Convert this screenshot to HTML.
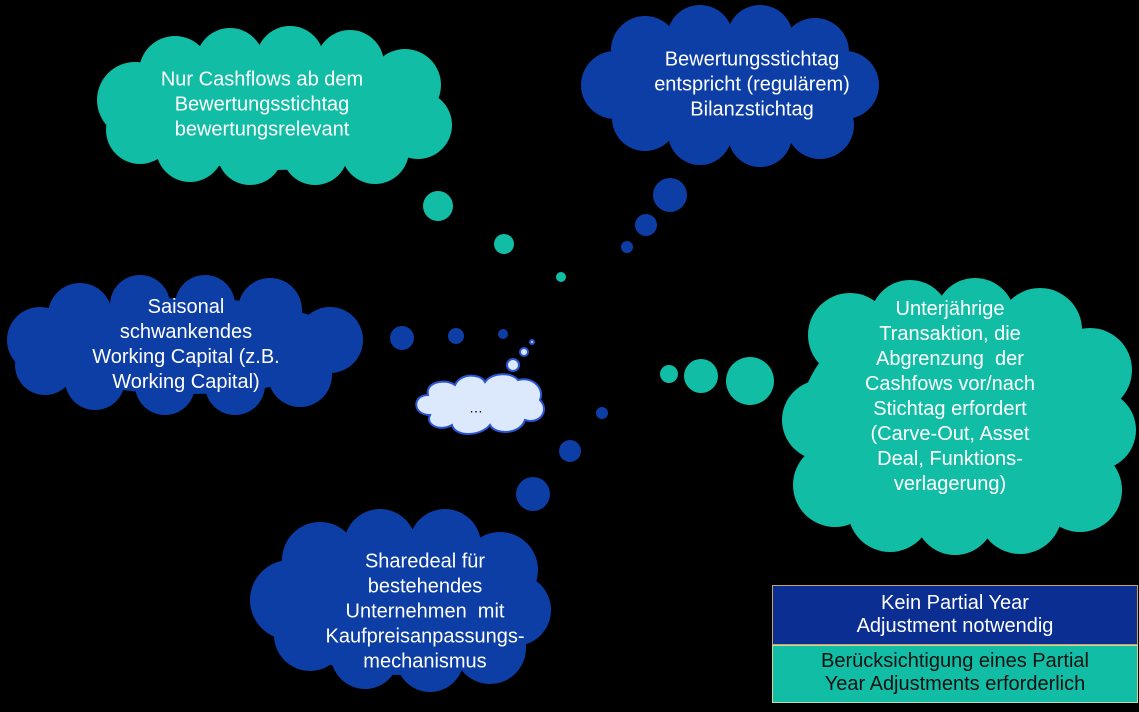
<!DOCTYPE html>
<html><head><meta charset="utf-8"><style>
body{margin:0;background:#000;}
#w{position:relative;width:1139px;height:712px;overflow:hidden;background:#000;font-family:"Liberation Sans",sans-serif;}
svg{position:absolute;left:0;top:0}
.t{position:absolute;color:#fff;font-size:20px;line-height:25px;text-align:center;transform:translate(-50%,-50%);white-space:nowrap}
.b{position:absolute;left:772px;width:366px;text-align:center;font-size:20px;line-height:23px}
</style></head><body><div id="w">
<svg width="1139" height="712">
<g fill="#12bda5">
<ellipse cx="276" cy="108" rx="160" ry="62"/>
<circle cx="135" cy="100" r="38"/><circle cx="175" cy="72" r="36"/><circle cx="230" cy="62" r="34"/><circle cx="290" cy="60" r="34"/><circle cx="350" cy="64" r="34"/><circle cx="405" cy="85" r="36"/><circle cx="418" cy="125" r="34"/><circle cx="375" cy="150" r="34"/><circle cx="315" cy="152" r="33"/><circle cx="250" cy="152" r="33"/><circle cx="190" cy="148" r="34"/><circle cx="140" cy="130" r="34"/>
<ellipse cx="960" cy="420" rx="160" ry="120"/>
<circle cx="850" cy="335" r="42"/><circle cx="910" cy="320" r="40"/><circle cx="975" cy="318" r="40"/><circle cx="1040" cy="330" r="42"/><circle cx="1090" cy="370" r="42"/><circle cx="1096" cy="430" r="40"/><circle cx="1080" cy="490" r="42"/><circle cx="1020" cy="512" r="42"/><circle cx="955" cy="515" r="40"/><circle cx="890" cy="510" r="42"/><circle cx="835" cy="485" r="42"/><circle cx="822" cy="420" r="40"/>
<circle cx="438" cy="206" r="15"/><circle cx="504" cy="244" r="10"/><circle cx="561" cy="277" r="5"/>
<circle cx="669" cy="374" r="9"/><circle cx="701" cy="376" r="17"/><circle cx="750" cy="381" r="24"/>
</g>
<g fill="#0c3ea6">
<ellipse cx="730" cy="88" rx="135" ry="55"/>
<circle cx="615" cy="85" r="34"/><circle cx="645" cy="50" r="34"/><circle cx="700" cy="38" r="33"/><circle cx="760" cy="38" r="33"/><circle cx="815" cy="52" r="34"/><circle cx="845" cy="85" r="34"/><circle cx="820" cy="125" r="34"/><circle cx="760" cy="135" r="32"/><circle cx="700" cy="133" r="32"/><circle cx="645" cy="118" r="33"/>
<ellipse cx="187" cy="346" rx="160" ry="48"/>
<circle cx="40" cy="340" r="33"/><circle cx="80" cy="315" r="32"/><circle cx="140" cy="305" r="30"/><circle cx="205" cy="305" r="30"/><circle cx="270" cy="310" r="32"/><circle cx="330" cy="340" r="33"/><circle cx="300" cy="375" r="32"/><circle cx="235" cy="385" r="30"/><circle cx="165" cy="385" r="30"/><circle cx="95" cy="380" r="30"/><circle cx="45" cy="365" r="30"/>
<ellipse cx="403" cy="605" rx="140" ry="70"/>
<circle cx="290" cy="600" r="40"/><circle cx="320" cy="560" r="38"/><circle cx="380" cy="545" r="36"/><circle cx="445" cy="545" r="36"/><circle cx="500" cy="570" r="38"/><circle cx="515" cy="610" r="36"/><circle cx="490" cy="648" r="36"/><circle cx="430" cy="658" r="34"/><circle cx="365" cy="655" r="34"/><circle cx="310" cy="635" r="36"/>
<circle cx="670" cy="195" r="17"/><circle cx="646" cy="225" r="11"/><circle cx="627" cy="247" r="6"/>
<circle cx="402" cy="338" r="12"/><circle cx="456" cy="336" r="8"/><circle cx="503" cy="334" r="5"/>
<circle cx="602" cy="413" r="6"/><circle cx="570" cy="451" r="11"/><circle cx="533" cy="494" r="17"/>
</g>
<g fill="#dce8fb" stroke="#2a56d6" stroke-width="2">
<path d="M430 415 C412 415 412 395 428 395 C425 382 445 378 455 385 C460 373 480 373 485 382 C492 372 512 372 518 380 C532 376 545 388 540 400 C550 410 540 425 525 420 C520 435 495 435 490 425 C480 437 455 437 452 425 C440 432 425 425 430 415 Z"/>
<circle cx="513" cy="365" r="6"/><circle cx="524" cy="352" r="4"/><circle cx="532" cy="342" r="2"/>
</g>
</svg>
<div class="t" style="left:262px;top:105px">Nur Cashflows ab dem<br>Bewertungsstichtag<br>bewertungsrelevant</div>
<div class="t" style="left:752px;top:85px">Bewertungsstichtag<br>entspricht (regulärem)<br>Bilanzstichtag</div>
<div class="t" style="left:186px;top:345px">Saisonal<br>schwankendes<br>Working Capital (z.B.<br>Working Capital)</div>
<div class="t" style="left:950px;top:397px">Unterjährige<br>Transaktion, die<br>Abgrenzung&nbsp; der<br>Cashfows vor/nach<br>Stichtag erfordert<br>(Carve-Out, Asset<br>Deal, Funktions-<br>verlagerung)</div>
<div class="t" style="left:425px;top:612px">Sharedeal für<br>bestehendes<br>Unternehmen&nbsp; mit<br>Kaufpreisanpassungs-<br>mechanismus</div>
<div class="t" style="left:476px;top:408px;color:#000;font-size:14px">…</div>
<div class="b" style="top:585px;height:60px;background:#0a2e91;color:#fff;border:1px solid #c9a36a;box-sizing:border-box;padding-top:6px">Kein Partial Year<br>Adjustment notwendig</div>
<div class="b" style="top:645px;height:58px;background:#12bda5;color:#111;border:1px solid #c9d9a0;box-sizing:border-box;padding-top:4px">Berücksichtigung eines Partial<br>Year Adjustments erforderlich</div>
</div></body></html>
